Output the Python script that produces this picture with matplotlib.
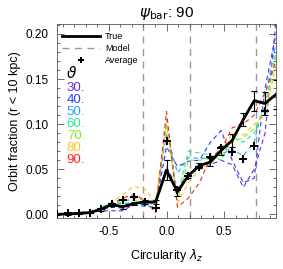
import numpy as np
import matplotlib
matplotlib.use("Agg")
import matplotlib.pyplot as plt
from matplotlib.lines import Line2D
from matplotlib.ticker import MultipleLocator

plt.rcParams['font.family'] = ['Liberation Sans', 'DejaVu Sans']
plt.rcParams['mathtext.fontset'] = 'dejavusans'

# bin centres in circularity lambda_z
lam = [-0.952, -0.857, -0.762, -0.667, -0.571, -0.476, -0.381, -0.286, -0.190, -0.095,
       0.0, 0.095, 0.190, 0.286, 0.381, 0.476, 0.571, 0.667, 0.762, 0.857, 0.952]

true_frac = [0.000, 0.0005, 0.001, 0.002, 0.0056, 0.011, 0.0085, 0.012, 0.0137, 0.0137,
             0.049, 0.025, 0.043, 0.054, 0.058, 0.071, 0.082, 0.105, 0.126, 0.123, 0.133]
true_err = [0.001, 0.001, 0.001, 0.001, 0.0015, 0.002, 0.002, 0.002, 0.002, 0.002,
            0.011, 0.005, 0.003, 0.003, 0.004, 0.005, 0.007, 0.007, 0.011, 0.013, 0.016]
avg_frac = [0.000, 0.001, 0.001, 0.002, 0.006, 0.011, 0.0154, 0.0195, 0.0142, 0.0075,
            0.081, 0.027, 0.042, 0.053, 0.064, 0.074, 0.069, 0.061, 0.076, 0.115, np.nan]

incl_labels = ['30.', '40.', '50.', '60.', '70.', '80.', '90.']
incl_colors = ['#6a2ad0', '#2a3cff', '#2aa0ff', '#20ee90', '#80f020', '#ffc020', '#ff2020']

m30 = [0.000, 0.001, 0.001, 0.002, 0.004, 0.004, 0.004, 0.011, 0.013, 0.012, 0.053,
       0.028, 0.045, 0.050, 0.055, 0.060, 0.055, 0.030, 0.050, 0.090, 0.215]
m40 = [0.000, 0.001, 0.001, 0.002, 0.005, 0.008, 0.007, 0.011, 0.009, 0.008, 0.075,
       0.053, 0.059, 0.060, 0.080, 0.093, 0.060, 0.035, 0.040, 0.140, 0.200]
m50 = [0.000, 0.001, 0.002, 0.003, 0.006, 0.013, 0.012, 0.013, 0.010, 0.008, 0.090,
       0.046, 0.063, 0.062, 0.062, 0.067, 0.072, 0.065, 0.080, 0.130, 0.190]
m60 = [0.000, 0.001, 0.002, 0.003, 0.007, 0.014, 0.015, 0.016, 0.014, 0.010, 0.105,
       0.020, 0.070, 0.068, 0.066, 0.060, 0.085, 0.080, 0.090, 0.120, 0.180]
m70 = [0.000, 0.001, 0.002, 0.003, 0.006, 0.012, 0.014, 0.018, 0.016, 0.012, 0.100,
       0.015, 0.060, 0.060, 0.062, 0.065, 0.080, 0.085, 0.095, 0.115, 0.175]
m80 = [0.000, 0.001, 0.002, 0.003, 0.006, 0.012, 0.022, 0.031, 0.028, 0.013, 0.100,
       0.012, 0.035, 0.050, 0.055, 0.070, 0.090, 0.088, 0.100, 0.110, 0.165]
m90 = [0.000, 0.001, 0.002, 0.003, 0.006, 0.012, 0.018, 0.022, 0.016, 0.002, 0.114,
       0.008, 0.018, 0.035, 0.063, 0.072, 0.096, 0.100, 0.110, 0.135, 0.170]
models = [m30, m40, m50, m60, m70, m80, m90]

vlines = [-0.2, 0.2, 0.78]

fig = plt.figure(figsize=(2.83, 2.69), dpi=100)
ax = fig.add_axes([0.2014, 0.1896, 0.7739, 0.7212])

for xv in vlines:
    ax.axvline(xv, color='#999999', lw=1.0, dashes=(5, 4), zorder=1)

for m, c in zip(models, incl_colors):
    ax.plot(lam, m, color=c, lw=0.8, dashes=(4, 3), zorder=2)

ax.errorbar(lam, true_frac, yerr=true_err, color='black', lw=2.0, elinewidth=0.8,
            capsize=2.0, capthick=0.8, zorder=4)
ax.plot(lam, avg_frac, linestyle='none', marker='P', color='black', ms=6,
        markeredgewidth=0.0, zorder=5)

ax.set_xlim(-0.952, 0.952)
ax.set_ylim(-0.004, 0.211)
ax.xaxis.set_major_locator(MultipleLocator(0.5))
ax.xaxis.set_minor_locator(MultipleLocator(0.1))
ax.yaxis.set_major_locator(MultipleLocator(0.05))
ax.yaxis.set_minor_locator(MultipleLocator(0.01))
ax.yaxis.set_major_formatter(matplotlib.ticker.FormatStrFormatter('%.2f'))
ax.xaxis.set_major_formatter(matplotlib.ticker.FormatStrFormatter('%.1f'))
ax.tick_params(which='both', direction='in', top=True, right=True, labelsize=8.5,
               width=0.6, color='#555555')
ax.tick_params(which='major', length=5, pad=6)
ax.tick_params(which='minor', length=2.5)
for s in ax.spines.values():
    s.set_linewidth(0.6)
    s.set_color('#555555')

ax.set_xlabel(r'Circularity $\lambda_z$', fontsize=9, labelpad=6)
ax.set_ylabel('Orbit fraction (r < 10 kpc)', fontsize=9, labelpad=3)
ax.set_title(r'$\psi_{\rm bar}$: 90', fontsize=11, pad=5)

handles = [Line2D([], [], color='black', lw=2.0),
           Line2D([], [], color='#999999', lw=1.0, dashes=(5, 4)),
           Line2D([], [], linestyle='none', marker='P', color='black', ms=5,
                  markeredgewidth=0)]
ax.legend(handles, ['True', 'Model', 'Average'], loc='upper left', frameon=False,
          fontsize=6.5, handlelength=4.2, handletextpad=0.6, labelspacing=0.3,
          borderaxespad=0.0, bbox_to_anchor=(0.005, 0.975))

ax.text(0.04, 0.745, r'$\vartheta$', transform=ax.transAxes, fontsize=11,
        ha='left', va='center')
for i, (lab, c) in enumerate(zip(incl_labels, incl_colors)):
    ax.text(0.045, 0.672 - i * 0.062, lab, transform=ax.transAxes, color=c,
            fontsize=9.5, ha='left', va='center')

fig.savefig('out.png', dpi=100)
